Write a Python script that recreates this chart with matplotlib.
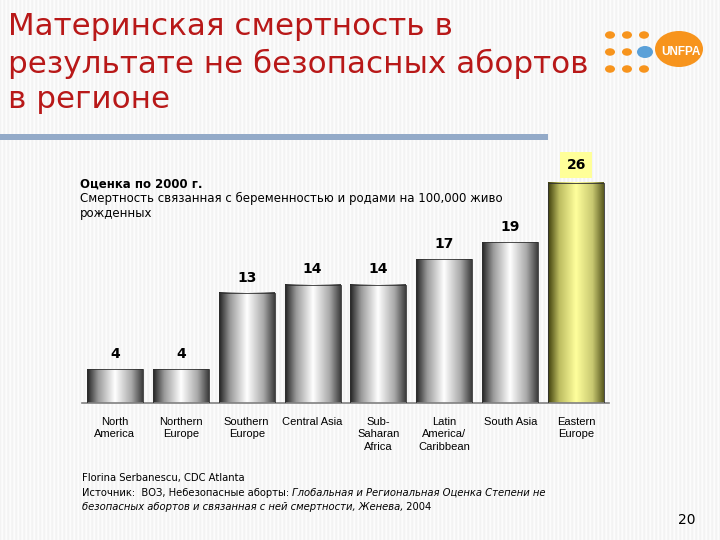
import numpy as np
import matplotlib
matplotlib.use('Agg')
import matplotlib.pyplot as plt
from matplotlib.colors import LinearSegmentedColormap
from matplotlib.patches import Circle, Rectangle

regions = ['North\nAmerica', 'Northern\nEurope', 'Southern\nEurope', 'Central Asia',
           'Sub-\nSaharan\nAfrica', 'Latin\nAmerica/\nCaribbean', 'South Asia', 'Eastern\nEurope']
values = [4, 4, 13, 14, 14, 17, 19, 26]
highlight = 'Eastern\nEurope'

title = 'Материнская смертность в\nрезультате не безопасных абортов\nв регионе'
note_head = 'Оценка по 2000 г.'
note_body = 'Смертность связанная с беременностью и родами на 100,000 живо\nрожденных'

plt.rcParams['font.family'] = ['DejaVu Sans']

fig = plt.figure(figsize=(7.2, 5.4), dpi=100)
fig.patch.set_facecolor('#f4f4f4')

# striped backdrop
bg = fig.add_axes([0, 0, 1, 1], zorder=-10)
stripes = np.tile(np.array([0.95, 0.975, 0.985, 0.96]), 180)[None, :]
bg.imshow(stripes, cmap='gray', vmin=0, vmax=1, aspect='auto', extent=(0, 1, 0, 1))
bg.axis('off')

# title and blue rule
fig.text(8 / 720, 1 - 12 / 540, title, ha='left', va='top', fontsize=22.3,
         color='#b81818', linespacing=1.3)
fig.add_artist(Rectangle((0, 1 - 140 / 540), 548 / 720, 6 / 540,
                         transform=fig.transFigure, color='#93aac8', lw=0))

# logo
orange = '#f7941d'
for xx in [610, 627, 644]:
    for yy in [35, 52, 69]:
        if xx == 644 and yy == 52:
            continue
        fig.add_artist(Circle((xx / 720, 1 - yy / 540), 5 / 720, transform=fig.transFigure,
                              color=orange, lw=0))
fig.add_artist(Circle((679 / 720, 1 - 49 / 540), 24 / 720, transform=fig.transFigure,
                      color=orange, lw=0))
fig.add_artist(Circle((645 / 720, 1 - 52 / 540), 8 / 720, transform=fig.transFigure,
                      color='#5aa0d8', lw=0))
fig.text(681 / 720, 1 - 52 / 540, 'UNFPA', ha='center', va='center', color='white',
         fontsize=8.5, fontweight='bold', family='Liberation Sans')

# chart
ax = fig.add_axes([82 / 720, 137 / 540, 527 / 720, 237 / 540])
ax.patch.set_alpha(0)
x = np.arange(len(regions))
bars = ax.bar(x, values, width=0.85, color='none', edgecolor='#303030', lw=0.6, zorder=3)

gray_cm = LinearSegmentedColormap.from_list('g', [(0, '#222222'), (0.2, '#9a9a9a'),
                                                  (0.5, '#ffffff'), (0.8, '#a8a8a8'),
                                                  (1, '#3c3c3c')])
yel_cm = LinearSegmentedColormap.from_list('y', [(0, '#40400c'), (0.2, '#bcbc60'),
                                                 (0.5, '#ffff9c'), (0.8, '#c8c870'),
                                                 (1, '#5a5a20')])
grad = np.linspace(0, 1, 200)[None, :]
for b, r, v in zip(bars, regions, values):
    x0, w, h = b.get_x(), b.get_width(), b.get_height()
    cm = yel_cm if r == highlight else gray_cm
    ax.imshow(grad, cmap=cm, aspect='auto', extent=(x0, x0 + w, 0, h), zorder=2)
    cx = x0 + w / 2
    if r == highlight:
        ax.annotate(str(v), (cx, h), xytext=(0, 13), textcoords='offset points',
                    ha='center', va='center', fontsize=10, fontweight='bold',
                    bbox=dict(boxstyle='square,pad=0.45', fc='#ffff99', ec='none'))
    else:
        ax.annotate(str(v), (cx, h), xytext=(0, 11), textcoords='offset points',
                    ha='center', va='center', fontsize=10, fontweight='bold')

ax.set_xlim(-0.5, 7.5)
ax.set_ylim(0, 28)
for s in ['top', 'right', 'left']:
    ax.spines[s].set_visible(False)
ax.spines['bottom'].set_color('#808080')
ax.spines['bottom'].set_linewidth(1.2)
ax.set_yticks([])
ax.set_xticks(x)
ax.set_xticklabels(regions, family='Liberation Sans', fontsize=8, linespacing=1.3)
ax.tick_params(axis='x', length=0, pad=10)

# note
fig.text(80 / 720, 1 - 184 / 540, note_head, ha='left', va='center', fontsize=8.5,
         fontweight='bold')
fig.text(80 / 720, 1 - 192 / 540, note_body, ha='left', va='top', fontsize=8.5,
         linespacing=1.2)

# source, with italic pieces
fs = 7.2
t1 = fig.text(82 / 720, 1 - 478 / 540, 'Florina Serbanescu, CDC Atlanta', fontsize=fs,
              va='center')
t2 = fig.text(82 / 720, 1 - 493 / 540, 'Источник:  ВОЗ, Небезопасные аборты: ', fontsize=fs,
              va='center')
ax.annotate('Глобальная и Региональная Оценка Степени не', xy=(1, 0.5), xycoords=t2,
            va='center', fontsize=fs, style='italic', annotation_clip=False)
t3 = fig.text(82 / 720, 1 - 507 / 540, 'безопасных абортов и связанная с ней смертности, Женева,',
              fontsize=fs, va='center', style='italic')
ax.annotate(' 2004', xy=(1, 0.5), xycoords=t3, va='center', fontsize=fs,
            annotation_clip=False)

fig.text(687 / 720, 1 - 520 / 540, '20', ha='center', va='center', fontsize=10)

fig.savefig('out.png', dpi=100, facecolor=fig.get_facecolor())
